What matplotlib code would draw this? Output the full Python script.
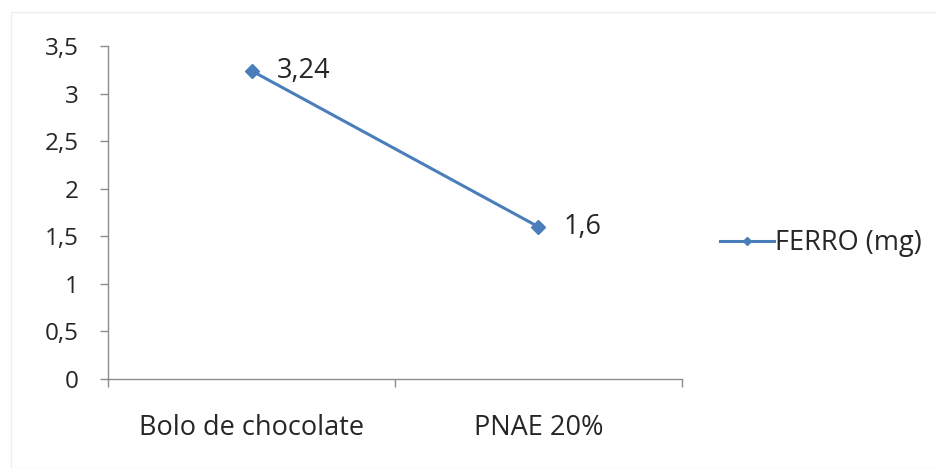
import matplotlib
matplotlib.use("Agg")
import matplotlib.pyplot as plt
from matplotlib.patches import Rectangle
from matplotlib.ticker import FuncFormatter

categories = ["Bolo de chocolate", "PNAE 20%"]
ferro = [3.24, 1.6]
series_name = "FERRO (mg)"

plt.rcParams["font.family"] = ["Open Sans", "DejaVu Sans"]

line_color = "#4A7EBB"
axis_color = "#8C8C8C"
text_color = "#262626"
fs = 19.5
fs_y = 17.5

fig = plt.figure(figsize=(9.37, 4.68), dpi=100)
ax = fig.add_axes([0.1153, 0.190, 0.6125, 0.7117])

x = range(len(categories))
ax.plot(x, ferro, color=line_color, lw=2.2, marker="D", markersize=7.5,
        markerfacecolor=line_color, markeredgecolor=line_color, label=series_name)

# value labels to the right of each point
for i, v in zip(x, ferro):
    ax.annotate(f"{v:g}".replace(".", ","), (i, v), xytext=(18, 0),
                textcoords="offset points", ha="left", va="center",
                fontsize=fs, color=text_color)

ax.set_xlim(-0.5, len(categories) - 0.5)
ax.set_ylim(0, 3.5)
ax.set_yticks([i * 0.5 for i in range(8)])
ax.yaxis.set_major_formatter(FuncFormatter(lambda v, p: f"{v:g}".replace(".", ",")))

ax.set_xticks(list(x))
ax.set_xticklabels(categories)
ax.set_xticks([-0.5, 0.5, 1.5], minor=True)
ax.tick_params(axis="x", which="major", length=0, pad=25, labelsize=fs, labelcolor=text_color)
ax.tick_params(axis="x", which="minor", length=6, width=1, color=axis_color, direction="out")
ax.tick_params(axis="y", length=6, width=1, color=axis_color, pad=15,
               labelsize=fs_y, labelcolor=text_color)

for side in ["top", "right"]:
    ax.spines[side].set_visible(False)
for side in ["left", "bottom"]:
    ax.spines[side].set_color(axis_color)
    ax.spines[side].set_linewidth(1)

leg = fig.legend(loc="center left", bbox_to_anchor=(0.742, 0.48), frameon=False,
                 fontsize=fs, handlelength=2.0, handletextpad=0.05, markerscale=0.6)
for t in leg.get_texts():
    t.set_color(text_color)

# faint chart-area border
fig.patches.append(Rectangle((11 / 937, 0.0), 1.0, 1 - 12 / 468, transform=fig.transFigure,
                             fill=False, edgecolor="#EEEEEE", lw=1))

fig.savefig("out.png", dpi=100)
